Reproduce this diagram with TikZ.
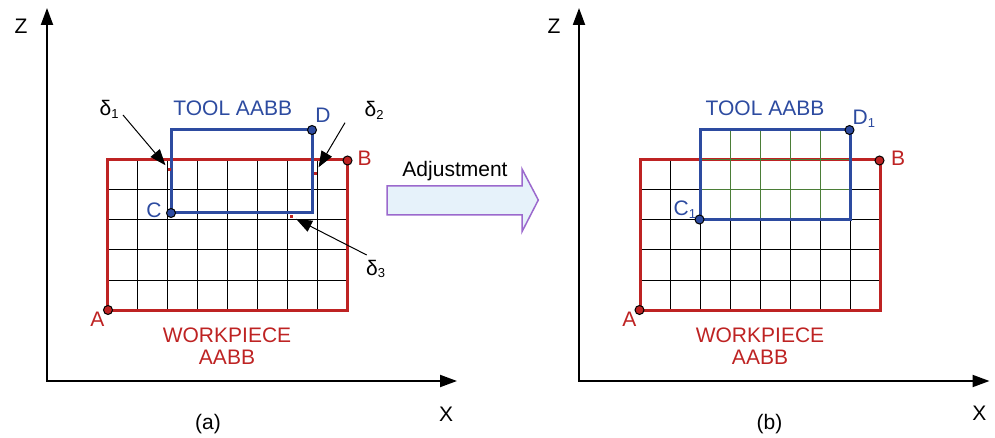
\documentclass[tikz,border=0pt]{standalone}
\usepackage{fontspec}
\setmainfont{Liberation Sans}
\usetikzlibrary{arrows.meta}
\definecolor{wred}{RGB}{190,35,35}
\definecolor{tblue}{RGB}{45,75,160}
\definecolor{ggreen}{RGB}{75,125,55}
\definecolor{adjfill}{RGB}{230,242,250}
\definecolor{adjdraw}{RGB}{155,105,205}
\newcommand\mysub[1]{\raisebox{-2.5pt}{\fontsize{13}{13}\selectfont #1}}
\begin{document}
\begin{tikzpicture}[x=1pt,y=-1pt,
  lbl/.style={inner sep=0pt, anchor=base, font=\fontsize{21}{25}\selectfont},
  axisline/.style={line width=2pt, {Triangle[length=17pt,width=12pt]}-{Triangle[length=17pt,width=12pt]}},
  gridline/.style={line width=1pt, black},
  greenline/.style={line width=1pt, ggreen},
  wpbox/.style={line width=3pt, wred},
  toolbox/.style={line width=3pt, tblue},
  dot/.style={circle, draw=black, line width=1pt, minimum size=9pt, inner sep=0pt},
  redtick/.style={rectangle, fill=wred, minimum size=3pt, inner sep=0pt},
  callout/.style={line width=1pt, -{Triangle[length=16pt,width=12pt]}},
  adjarrow/.style={fill=adjfill, draw=adjdraw, line width=1.5pt, line join=miter}
]
\useasboundingbox (0,0) rectangle (995,438);

% ---------------- Panel (a) ----------------
\coordinate (za) at (47,8);
\coordinate (oa) at (47,381);
\coordinate (xa) at (457,381);
\draw[axisline] (za) -- (oa) -- (xa);
\node[lbl] (Za) at (21,33.3) {Z};
\node[lbl] (Xa) at (446,421) {X};
\node[lbl] (capa) at (208,429) {(a)};

\foreach \i in {1,...,7} \draw[gridline] (107+30*\i,160) -- (107+30*\i,310);
\foreach \j in {1,...,4} \draw[gridline] (107,160+30*\j) -- (347,160+30*\j);
\draw[wpbox] (107,160) rectangle (347,310);
\draw[toolbox] (171,130) rectangle (312,213);

\node[dot, fill=wred] (A) at (108,310) {};
\node[dot, fill=wred] (B) at (347.5,160.5) {};
\node[dot, fill=tblue] (C) at (171,213) {};
\node[dot, fill=tblue] (D) at (312,130) {};

\node[lbl, text=wred] (Al) at (97.3,326) {A};
\node[lbl, text=wred] (Bl) at (364.5,166) {B};
\node[lbl, text=tblue] (Cl) at (154,218) {C};
\node[lbl, text=tblue] (Dl) at (323,122.7) {D};
\node[lbl, text=tblue] (toola) at (232.7,116) {TOOL AABB};
\node[lbl, text=wred] (wpa1) at (227,342.7) {WORKPIECE};
\node[lbl, text=wred] (wpa2) at (227,364.3) {AABB};

\node[redtick] (m1) at (169.5,170) {};
\node[redtick] (m2) at (315,173.3) {};
\node[redtick] (m3) at (291.7,216.7) {};

\node[lbl, anchor=base west] (d1) at (99.5,116) {δ\mysub{1}};
\node[lbl, anchor=base west] (d2) at (364.5,116.7) {δ\mysub{2}};
\node[lbl, anchor=base west] (d3) at (366,275) {δ\mysub{3}};

\coordinate (s1) at (123,115);
\coordinate (s2) at (345,122.7);
\coordinate (s3) at (366.7,255);
\draw[callout, shorten >=4pt] (s1) -- (m1);
\draw[callout, shorten >=5pt] (s2) -- (m2);
\draw[callout, shorten >=3pt] (s3) -- (m3);

% ---------------- Adjustment arrow ----------------
\draw[adjarrow] (387,186) -- (522,186) -- (522,169) -- (538.3,200) -- (522,231.7) -- (522,215) -- (387,215) -- cycle;
\node[lbl] (adj) at (455,176.7) {Adjustment};

% ---------------- Panel (b) ----------------
\coordinate (zb) at (579,8);
\coordinate (ob) at (579,381);
\coordinate (xb) at (989.5,381);
\draw[axisline] (zb) -- (ob) -- (xb);
\node[lbl] (Zb) at (554,33.3) {Z};
\node[lbl] (Xb) at (979.3,420) {X};
\node[lbl] (capb) at (769.5,429) {(b)};

\foreach \i in {1,...,7} \draw[gridline] (640+30*\i,160) -- (640+30*\i,310);
\foreach \j in {1,...,4} \draw[gridline] (640,160+30*\j) -- (880,160+30*\j);
\draw[wpbox] (640,160) rectangle (880,310);
\foreach \i in {1,...,4} \draw[greenline] (700+30*\i,130) -- (700+30*\i,220);
\foreach \j in {0,1} \draw[greenline] (700,160+30*\j) -- (850,160+30*\j);
\draw[toolbox] (700,130) rectangle (850,220);

\node[dot, fill=wred] (A2) at (639.5,310) {};
\node[dot, fill=wred] (B2) at (879.5,160.5) {};
\node[dot, fill=tblue] (C2) at (699.5,219.5) {};
\node[dot, fill=tblue] (D2) at (849.5,130) {};

\node[lbl, text=wred] (A2l) at (629.3,326) {A};
\node[lbl, text=wred] (B2l) at (898,166) {B};
\node[lbl, text=tblue, anchor=base west] (C2l) at (673.5,216) {C\mysub{1}};
\node[lbl, text=tblue, anchor=base west] (D2l) at (852.5,125) {D\mysub{1}};
\node[lbl, text=tblue] (toolb) at (765,116) {TOOL AABB};
\node[lbl, text=wred] (wpb1) at (760,342.7) {WORKPIECE};
\node[lbl, text=wred] (wpb2) at (760,364.3) {AABB};
\end{tikzpicture}
\end{document}
